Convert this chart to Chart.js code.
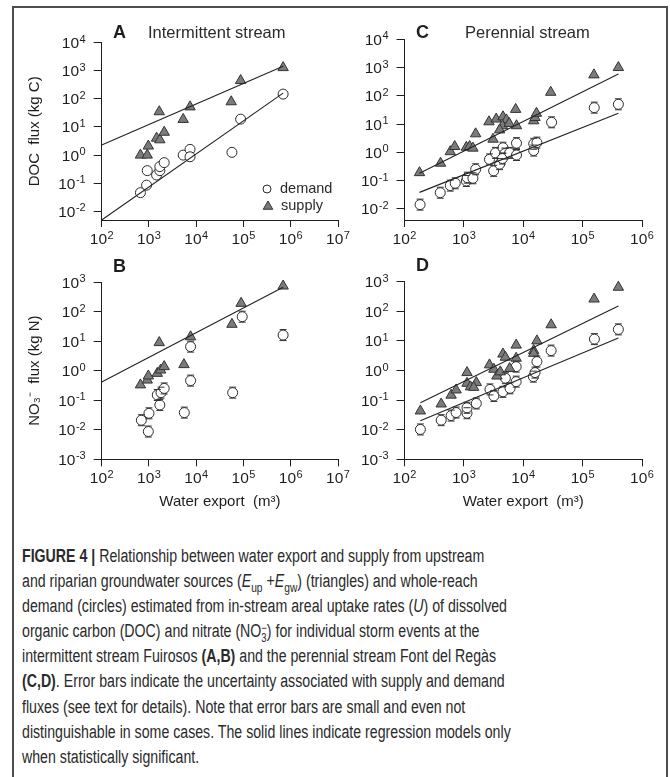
<!DOCTYPE html>
<html>
<head>
<meta charset="utf-8">
<script src="https://cdn.jsdelivr.net/npm/chart.js@4.4.0/dist/chart.umd.min.js"></script>
<style>
  html, body { margin: 0; padding: 0; background: #fff; overflow: hidden; }
  #frame { position: absolute; left: 12px; top: 6px; width: 652px; height: 820px; border: 2px solid #4d4d4d; border-bottom: none; }
  canvas { position: absolute; }
  #caption { position: absolute; left: 22px; top: 544px; font-family: "Liberation Sans", Arial, sans-serif;
             font-size: 18px; line-height: 25.1px; color: #2a2a2a; white-space: nowrap;
             transform: scaleX(0.787); transform-origin: 0 0; }
  #caption b { font-weight: bold; }
  .ss { display: inline-block; vertical-align: -5px; line-height: 10px; font-size: 12px; text-align: left; }
  .ss span { display: block; }
  sub { font-size: 13px; line-height: 0; }
</style>
</head>
<body>
<div id="frame"></div>
<canvas id="chartA" width="370" height="250" style="left:0;top:0"></canvas>
<canvas id="chartC" width="330" height="250" style="left:340px;top:0"></canvas>
<canvas id="chartB" width="370" height="270" style="left:0;top:250px"></canvas>
<canvas id="chartD" width="330" height="270" style="left:340px;top:250px"></canvas>
<div id="caption">
<b>FIGURE 4 |</b> Relationship between water export and supply from upstream<br>
and riparian groundwater sources (<i>E</i><sub>up</sub> +<i>E</i><sub>gw</sub>) (triangles) and whole-reach<br>
demand (circles) estimated from in-stream areal uptake rates (<i>U</i>) of dissolved<br>
organic carbon (DOC) and nitrate (NO<span class="ss"><span>−</span><span>3</span></span>) for individual storm events at the<br>
intermittent stream Fuirosos <b>(A,B)</b> and the perennial stream Font del Regàs<br>
<b>(C,D)</b>. Error bars indicate the uncertainty associated with supply and demand<br>
fluxes (see text for details). Note that error bars are small and even not<br>
distinguishable in some cases. The solid lines indicate regression models only<br>
when statistically significant.
</div>
<script>
// Tick exponents (labels are drawn as 10^n)
const xExpAB = [2, 3, 4, 5, 6, 7];
const xExpCD = [2, 3, 4, 5, 6];
const yExpAC = [-2, -1, 0, 1, 2, 3, 4];
const yExpBD = [-3, -2, -1, 0, 1, 2, 3];

// A: DOC, intermittent stream
const aDemandX = [660, 890, 920, 1450, 1700, 1700, 2100, 5300, 7400, 7400, 57000, 87000, 690000];
const aDemandY = [0.046, 0.085, 0.28, 0.195, 0.28, 0.39, 0.54, 1.0, 1.6, 0.87, 1.25, 19, 148];
const aSupplyX = [660, 920, 970, 1450, 1700, 2100, 1650, 5300, 7400, 55000, 87000, 690000];
const aSupplyY = [1.0, 1.0, 2.1, 4.0, 3.5, 6.5, 35, 18.6, 52, 79, 450, 1300];
const aSupplyFitX = [100, 690000];
const aSupplyFitY = [2.3, 1450];
const aDemandFitX = [100, 690000];
const aDemandFitY = [0.0049, 160];

// B: NO3-, intermittent stream
const bDemandX = [690, 970, 1000, 1500, 1700, 1800, 2100, 5600, 7600, 7600, 59000, 94000, 690000];
const bDemandY = [0.021, 0.0087, 0.036, 0.15, 0.069, 0.18, 0.25, 0.038, 0.46, 6.5, 0.18, 67, 16];
const bSupplyX = [660, 920, 970, 1500, 1770, 2100, 1650, 5500, 7600, 57000, 89000, 690000];
const bSupplyY = [0.33, 0.48, 0.66, 0.81, 1.05, 1.37, 8.9, 1.6, 14, 37, 190, 730];
const bSupplyFitX = [100, 690000];
const bSupplyFitY = [0.41, 660];

// C: DOC, perennial stream
const cDemandX = [183, 400, 590, 716, 1100, 1140, 1420, 1580, 2700, 3170, 3400, 4000, 4560, 4900, 4460, 5900, 7700, 7700, 15000, 15000, 17000, 30000, 157000, 400000];
const cDemandY = [0.014, 0.037, 0.066, 0.08, 0.096, 0.126, 0.12, 0.25, 0.56, 0.22, 0.95, 0.38, 1.45, 0.9, 0.6, 0.95, 0.8, 2.1, 2.0, 1.15, 2.2, 11.5, 38, 50];
const cSupplyX = [179, 405, 590, 700, 1100, 1250, 1420, 1580, 3100, 2650, 3500, 4560, 5200, 4460, 4000, 5800, 7700, 7450, 15000, 15800, 16700, 29000, 155000, 400000];
const cSupplyY = [0.19, 0.41, 1.05, 1.6, 1.5, 1.6, 1.4, 4.5, 2.9, 12, 15, 18, 14, 8.7, 6.2, 10.5, 8.7, 33, 13, 17, 24, 133, 550, 1000];
const cSupplyFitX = [179, 400000];
const cSupplyFitY = [0.18, 590];
const cDemandFitX = [179, 400000];
const cDemandFitY = [0.038, 24];

// D: NO3-, perennial stream
const dDemandX = [185, 415, 610, 740, 1130, 1130, 1620, 2750, 3200, 4550, 5000, 6000, 7600, 7600, 14800, 15800, 17000, 29500, 158000, 400000];
const dDemandY = [0.0102, 0.021, 0.03, 0.038, 0.036, 0.055, 0.077, 0.23, 0.138, 0.19, 0.55, 0.25, 0.42, 1.35, 0.62, 0.85, 2.0, 4.7, 11.5, 24.5];
const dSupplyX = [185, 415, 610, 740, 1130, 1130, 1290, 1620, 1460, 2700, 3200, 3600, 4100, 4550, 5000, 5900, 7600, 7600, 15000, 15000, 17000, 29500, 156000, 400000];
const dSupplyY = [0.043, 0.074, 0.147, 0.22, 0.85, 0.37, 0.28, 0.39, 0.27, 1.55, 1.1, 0.65, 0.9, 3.6, 2.8, 1.17, 7.2, 2.6, 4.7, 3.8, 10, 35, 260, 650];
const dSupplyFitX = [185, 400000];
const dSupplyFitY = [0.081, 150];
const dDemandFitX = [185, 400000];
const dDemandFitY = [0.02, 12.5];

const FONT = '"Liberation Sans", Arial, sans-serif';
const INK = '#1e1e1e';

function pts(xs, ys) {
  return xs.map((x, i) => ({ x: x, y: ys[i] }));
}

// tick labels "10" with a raised exponent, placed at the scale's own tick pixels
const powLabels = {
  id: 'powLabels',
  afterDraw(chart) {
    const ctx = chart.ctx;
    ctx.save();
    ctx.fillStyle = INK;
    ctx.textBaseline = 'alphabetic';
    ctx.textAlign = 'left';
    const base = '15.5px ' + FONT, small = '11px ' + FONT;
    ['x', 'y'].forEach(id => {
      const s = chart.scales[id];
      s.ticks.forEach(t => {
        const e = String(Math.round(Math.log10(t.value)));
        ctx.font = base;
        const w1 = ctx.measureText('10').width;
        ctx.font = small;
        const w2 = ctx.measureText(e).width;
        const w = w1 + w2 + 0.5;
        let x0, yb;
        if (id === 'x') {
          x0 = s.getPixelForValue(t.value) - w / 2;
          yb = s.top + 24;
        } else {
          x0 = s.right - 16 - w;
          yb = s.getPixelForValue(t.value) + 5.5;
        }
        ctx.font = base;
        ctx.fillText('10', x0, yb);
        ctx.font = small;
        ctx.fillText(e, x0 + w1 + 0.5, yb - 5.5);
      });
    });
    ctx.restore();
  }
};

// small error-bar caps above/below the open circles
const capsPlugin = {
  id: 'caps',
  afterDatasetsDraw(chart) {
    const ctx = chart.ctx;
    chart.data.datasets.forEach((ds, i) => {
      if (!ds.caps) return;
      ctx.save();
      ctx.strokeStyle = '#333';
      ctx.lineWidth = 1;
      chart.getDatasetMeta(i).data.forEach(p => {
        ctx.beginPath();
        ctx.moveTo(p.x - 3.5, p.y - 5.5); ctx.lineTo(p.x + 3.5, p.y - 5.5);
        ctx.moveTo(p.x - 3.5, p.y + 5.5); ctx.lineTo(p.x + 3.5, p.y + 5.5);
        ctx.stroke();
      });
      ctx.restore();
    });
  }
};

// panel letter, panel title and the little legend of panel A
const panelText = {
  id: 'panelText',
  afterDraw(chart, args, o) {
    const ctx = chart.ctx;
    ctx.save();
    ctx.fillStyle = INK;
    ctx.textBaseline = 'middle';
    ctx.textAlign = 'left';
    ctx.font = 'bold 18px ' + FONT;
    ctx.fillText(o.letter, o.lx, o.ly);
    if (o.title) {
      ctx.font = '16.5px ' + FONT;
      ctx.fillStyle = '#2a2a2a';
      ctx.fillText(o.title, o.tx, o.ty);
    }
    if (o.legend) {
      const ds = chart.data.datasets;
      ctx.font = '14.5px ' + FONT;
      o.legend.forEach(item => {
        const d = ds[item.dataset];
        ctx.fillStyle = d.backgroundColor;
        ctx.strokeStyle = d.borderColor;
        ctx.lineWidth = 1;
        ctx.beginPath();
        if (d.pointStyle === 'triangle') {
          const r = 5;
          ctx.moveTo(item.x, item.y - r);
          ctx.lineTo(item.x + r * 0.95, item.y + r * 0.65);
          ctx.lineTo(item.x - r * 0.95, item.y + r * 0.65);
          ctx.closePath();
        } else {
          ctx.arc(item.x, item.y, 4, 0, Math.PI * 2);
        }
        ctx.fill();
        ctx.stroke();
        ctx.fillStyle = '#2a2a2a';
        ctx.fillText(d.label, item.x + 13, item.y);
      });
    }
    ctx.restore();
  }
};

function makePanel(id, cfg) {
  const datasets = [
    {
      label: 'demand', data: pts(cfg.demandX, cfg.demandY),
      pointStyle: 'circle', pointRadius: 5, pointHoverRadius: 5,
      backgroundColor: '#ffffff', borderColor: '#2a2a2a', borderWidth: 1, clip: false,
      caps: cfg.caps, order: 2
    },
    {
      label: 'supply', data: pts(cfg.supplyX, cfg.supplyY),
      pointStyle: 'triangle', pointRadius: 6, pointHoverRadius: 6,
      backgroundColor: '#7b7b7b', borderColor: '#333333', borderWidth: 1, clip: false, order: 1
    }
  ];
  cfg.fits.forEach(f => {
    datasets.push({
      label: 'fit', data: pts(f[0], f[1]), showLine: true, pointRadius: 0,
      borderColor: '#222', borderWidth: 1.1, backgroundColor: '#222', order: 0, clip: false
    });
  });

  new Chart(document.getElementById(id), {
    type: 'scatter',
    data: { datasets: datasets },
    options: {
      responsive: false,
      animation: false,
      devicePixelRatio: 1,
      layout: { padding: { top: cfg.top, right: cfg.right, left: 0, bottom: 0 } },
      plugins: {
        legend: { display: false },
        tooltip: { enabled: false },
        panelText: cfg.text
      },
      scales: {
        x: {
          type: 'logarithmic',
          min: Math.pow(10, cfg.xExp[0]),
          max: Math.pow(10, cfg.xExp[cfg.xExp.length - 1]),
          afterBuildTicks: s => { s.ticks = cfg.xExp.map(e => ({ value: Math.pow(10, e) })); },
          afterFit: s => { s.height = cfg.h - cfg.bottom; },
          ticks: { display: false, autoSkip: false },
          grid: { drawOnChartArea: false, tickLength: 7, color: INK },
          border: { color: INK, width: 1 },
          title: { display: !!cfg.xTitle, text: cfg.xTitle, color: INK, font: { family: FONT, size: 15 }, padding: { top: 0, bottom: 9 } }
        },
        y: {
          type: 'logarithmic',
          min: cfg.yMin,
          max: Math.pow(10, cfg.yExp[cfg.yExp.length - 1]),
          afterBuildTicks: s => { s.ticks = cfg.yExp.map(e => ({ value: Math.pow(10, e) })); },
          afterFit: s => { s.width = cfg.left; },
          ticks: { display: false, autoSkip: false },
          grid: { drawOnChartArea: false, tickLength: 8, color: INK },
          border: { color: INK, width: 1 },
          title: { display: !!cfg.yTitle, text: cfg.yTitle, color: INK, font: { family: FONT, size: 15 }, padding: { top: 26, bottom: 0 } }
        }
      }
    },
    plugins: [capsPlugin, powLabels, panelText]
  });
}

makePanel('chartA', {
  h: 250, top: 42.7, bottom: 220, left: 101.7, right: 32,
  xExp: xExpAB, yExp: yExpAC, yMin: 0.0049,
  demandX: aDemandX, demandY: aDemandY, supplyX: aSupplyX, supplyY: aSupplyY,
  fits: [[aSupplyFitX, aSupplyFitY], [aDemandFitX, aDemandFitY]],
  yTitle: 'DOC  flux (kg C)', caps: false,
  text: { letter: 'A', lx: 113, ly: 33, title: 'Intermittent stream', tx: 148, ty: 33,
          legend: [{ dataset: 0, x: 267, y: 189 }, { dataset: 1, x: 268, y: 206 }] }
});

makePanel('chartC', {
  h: 250, top: 39.3, bottom: 220, left: 64.5, right: 28,
  xExp: xExpCD, yExp: yExpAC, yMin: 0.004,
  demandX: cDemandX, demandY: cDemandY, supplyX: cSupplyX, supplyY: cSupplyY,
  fits: [[cSupplyFitX, cSupplyFitY], [cDemandFitX, cDemandFitY]],
  caps: true,
  text: { letter: 'C', lx: 76, ly: 33, title: 'Perennial stream', tx: 125, ty: 33 }
});

makePanel('chartB', {
  h: 270, top: 32, bottom: 209.3, left: 101.7, right: 32,
  xExp: xExpAB, yExp: yExpBD, yMin: 0.001,
  demandX: bDemandX, demandY: bDemandY, supplyX: bSupplyX, supplyY: bSupplyY,
  fits: [[bSupplyFitX, bSupplyFitY]],
  yTitle: 'NO₃⁻  flux (kg N)', xTitle: 'Water export  (m³)', caps: true,
  text: { letter: 'B', lx: 113, ly: 17 }
});

makePanel('chartD', {
  h: 270, top: 31.7, bottom: 209.3, left: 64.5, right: 28,
  xExp: xExpCD, yExp: yExpBD, yMin: 0.001,
  demandX: dDemandX, demandY: dDemandY, supplyX: dSupplyX, supplyY: dSupplyY,
  fits: [[dSupplyFitX, dSupplyFitY], [dDemandFitX, dDemandFitY]],
  xTitle: 'Water export  (m³)', caps: true,
  text: { letter: 'D', lx: 76, ly: 16 }
});
</script>
</body>
</html>
